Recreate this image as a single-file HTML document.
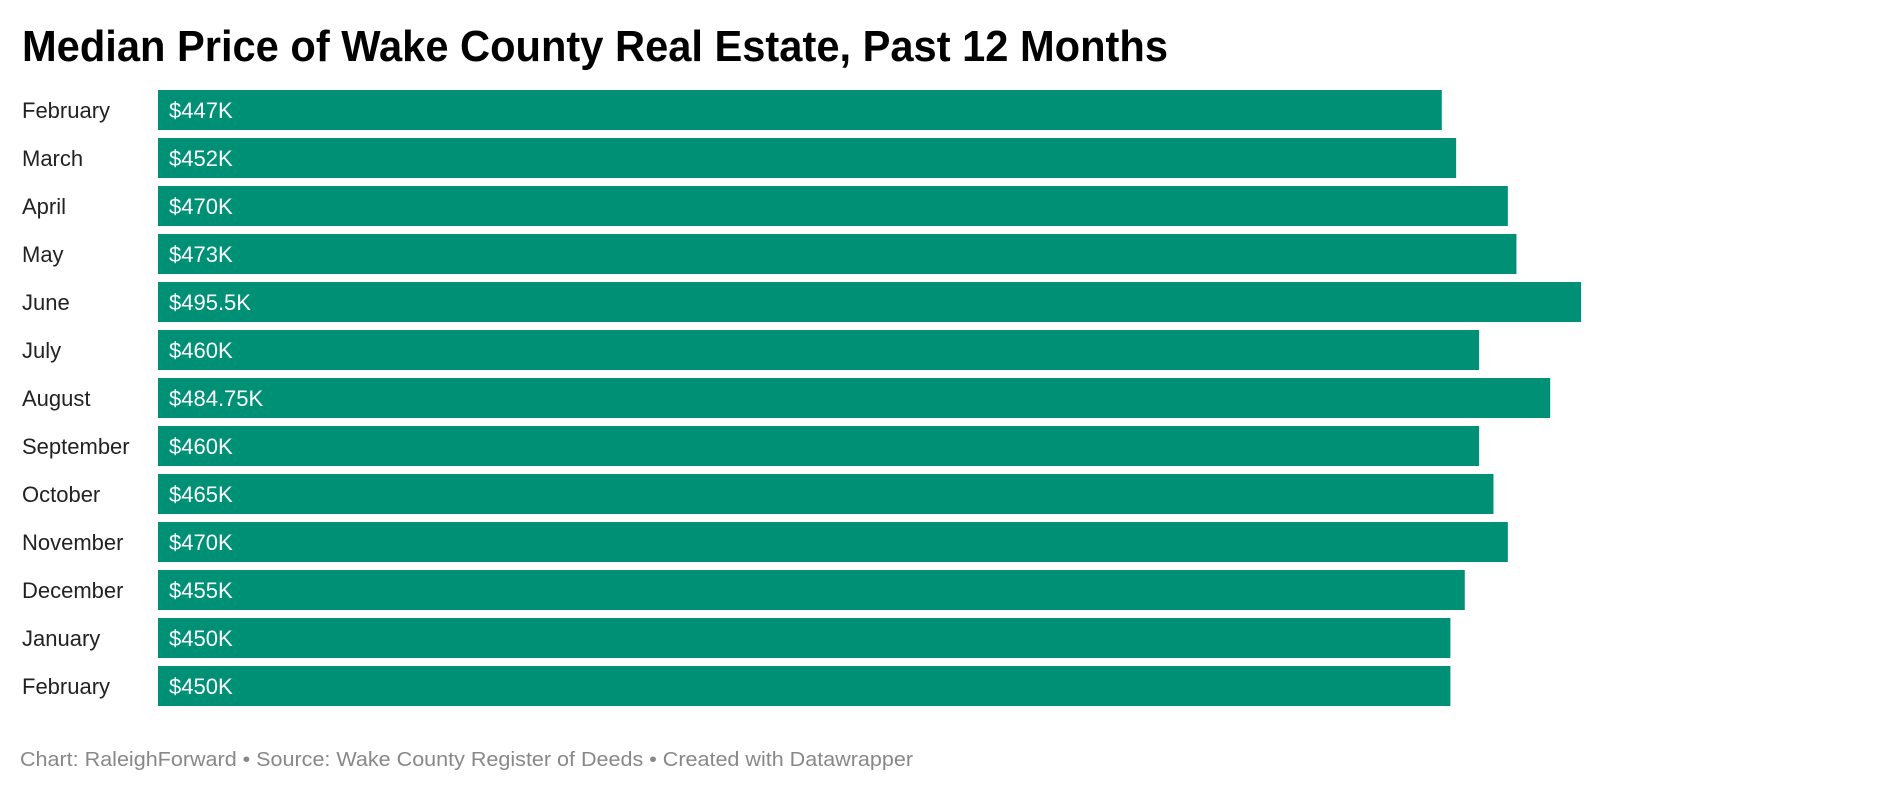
<!DOCTYPE html>
<html><head><meta charset="utf-8"><style>
html,body{margin:0;padding:0;background:#fff;}
svg{display:block;font-family:"Liberation Sans",sans-serif;}
</style></head><body>
<svg id="chart" width="1904" height="792" viewBox="0 0 1904 792" xmlns="http://www.w3.org/2000/svg">
<text x="22" y="61" font-size="44" font-weight="bold" fill="#000" textLength="1146" lengthAdjust="spacingAndGlyphs">Median Price of Wake County Real Estate, Past 12 Months</text>
<g id="bars"></g>
<text x="20" y="766" font-size="20" fill="#888" textLength="893" lengthAdjust="spacingAndGlyphs">Chart: RaleighForward • Source: Wake County Register of Deeds • Created with Datawrapper</text>
</svg>
<script>
const categories = ["February","March","April","May","June","July","August","September","October","November","December","January","February"];
const values = [447,452,470,473,495.5,460,484.75,460,465,470,455,450,450];
const valueLabels = ["$447K","$452K","$470K","$473K","$495.5K","$460K","$484.75K","$460K","$465K","$470K","$455K","$450K","$450K"];

const x0 = 158, pxPerUnit = 2.872;
function xScale(v){ return x0 + v * pxPerUnit; }
const top0 = 90, pitch = 48.0, barH = 40;
function yScale(i){ return top0 + i * pitch; }

const g = document.getElementById('bars');
const NS = 'http://www.w3.org/2000/svg';
categories.forEach((c, i) => {
  const y = yScale(i);
  const lab = document.createElementNS(NS, 'text');
  
  
  lab.setAttribute('x', 22);
  lab.setAttribute('y', y + barH/2 + 8);
  lab.setAttribute('font-size', 22);
  lab.setAttribute('fill', '#222');
  lab.textContent = c;
  g.appendChild(lab);

  const r = document.createElementNS(NS, 'rect');
  
  
  r.setAttribute('x', x0);
  r.setAttribute('y', y);
  r.setAttribute('width', xScale(values[i]) - x0);
  r.setAttribute('height', barH);
  r.setAttribute('fill', '#009076');
  g.appendChild(r);

  const vt = document.createElementNS(NS, 'text');
  
  
  vt.setAttribute('x', 169);
  vt.setAttribute('y', y + barH/2 + 8);
  vt.setAttribute('font-size', 22);
  vt.setAttribute('fill', '#fff');
  vt.textContent = valueLabels[i];
  g.appendChild(vt);
});
</script>
</body></html>
